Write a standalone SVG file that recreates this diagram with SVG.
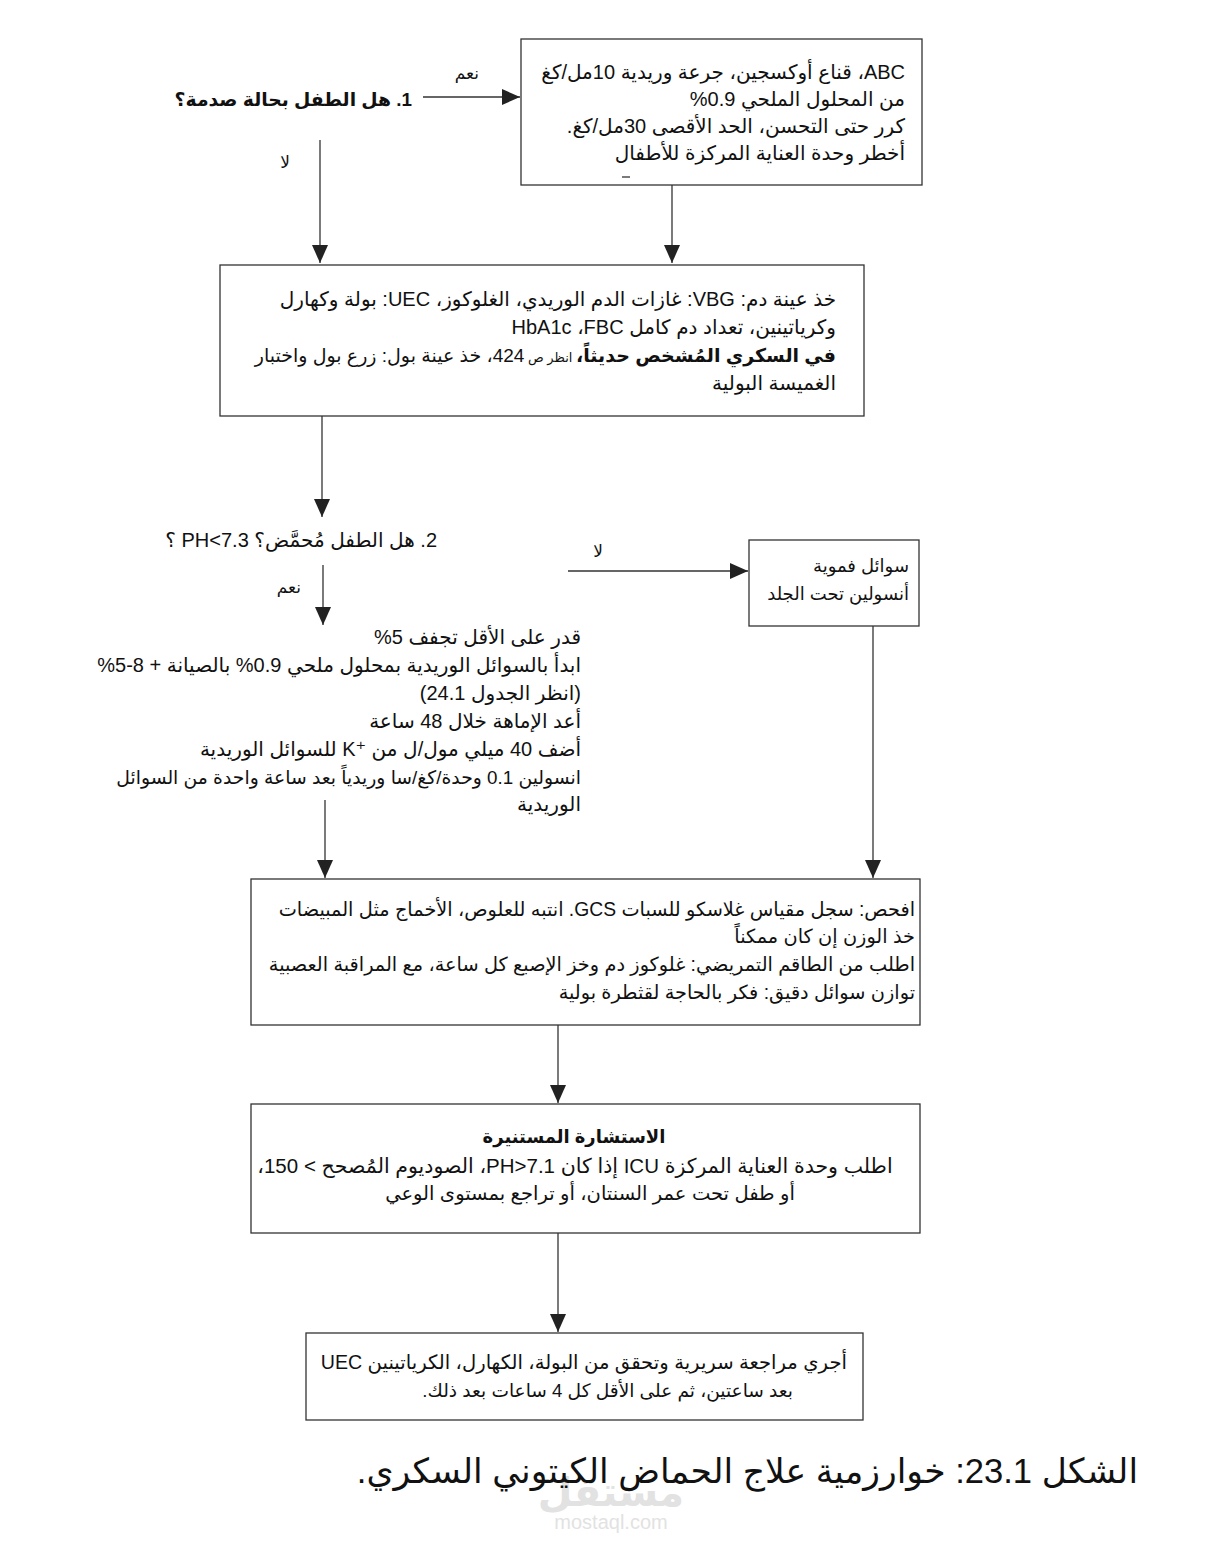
<svg xmlns="http://www.w3.org/2000/svg" width="1223" height="1565" viewBox="0 0 1223 1565">
<style>
.t{font-family:"Liberation Sans","DejaVu Sans",sans-serif;font-size:19px;fill:#111;direction:rtl;text-anchor:start}
.c{text-anchor:middle}
.box{fill:#fff;stroke:#333;stroke-width:1.3}
.ln{fill:none;stroke:#333;stroke-width:1.3}
.lbl{font-size:17px}
.wm{font-family:"Liberation Sans","DejaVu Sans",sans-serif;fill:#e2e2e2;text-anchor:middle}
</style>
<defs>
<marker id="ah" markerUnits="userSpaceOnUse" markerWidth="18" markerHeight="16" viewBox="0 0 18 16" refX="18" refY="8" orient="auto">
<path d="M0,0 L18,8 L0,16 Z" fill="#222"/>
</marker>
</defs>
<rect width="1223" height="1565" fill="#fff"/>

<g id="connectors">
<path class="ln" d="M423,97 H520" marker-end="url(#ah)"/>
<path class="ln" d="M320,140 V263" marker-end="url(#ah)"/>
<path class="ln" d="M672,185 V263" marker-end="url(#ah)"/>
<path class="ln" d="M322,416 V517" marker-end="url(#ah)"/>
<path class="ln" d="M323,565 V625" marker-end="url(#ah)"/>
<path class="ln" d="M568,571 H748" marker-end="url(#ah)"/>
<path class="ln" d="M325,800 V878" marker-end="url(#ah)"/>
<path class="ln" d="M873,626 V878" marker-end="url(#ah)"/>
<path class="ln" d="M558,1025 V1103" marker-end="url(#ah)"/>
<path class="ln" d="M558,1233 V1332" marker-end="url(#ah)"/>
<text class="t lbl" x="479" y="79">نعم</text>
<text class="t lbl" x="290" y="168">لا</text>
<text class="t lbl" x="301" y="593">نعم</text>
<text class="t lbl" x="603" y="557">لا</text>
</g>

<g id="q1">
<text class="t" x="412" y="106" style="font-size:18.8px;font-weight:bold">1. هل الطفل بحالة صدمة؟</text>
</g>

<g id="box1">
<rect class="box" x="521" y="39" width="401" height="146"/>
<text class="t" x="905" y="79" style="font-size:20px">ABC، قناع أوكسجين، جرعة وريدية 10مل/كغ</text>
<text class="t" x="905" y="106" style="font-size:20px">من المحلول الملحي 0.9%</text>
<text class="t" x="905" y="133" style="font-size:20px">كرر حتى التحسن، الحد الأقصى 30مل/كغ.</text>
<text class="t" x="905" y="160" style="font-size:20px">أخطر وحدة العناية المركزة للأطفال</text>
<path class="ln" d="M622,177 H630" stroke-width="1"/>
</g>

<g id="box2">
<rect class="box" x="220" y="265" width="644" height="151"/>
<text class="t" x="836" y="306" style="font-size:20px">خذ عينة دم: VBG: غازات الدم الوريدي، الغلوكوز، UEC: بولة وكهارل</text>
<text class="t" x="836" y="334" style="font-size:20px">وكرياتينين، تعداد دم كامل FBC&#x200F;، HbA1c</text>
<text class="t" x="836" y="362" style="font-size:19px"><tspan font-weight="bold">في السكري المُشخص حديثاً،</tspan><tspan font-size="13"> انظر ص </tspan>424، خذ عينة بول: زرع بول واختبار</text>
<text class="t" x="836" y="390" style="font-size:20px">الغميسة البولية</text>
</g>

<g id="q2">
<text class="t" x="437" y="547" style="font-size:20px">2. هل الطفل مُحمَّض؟ PH&lt;7.3 ؟</text>
</g>

<g id="box3">
<rect class="box" x="749" y="540" width="170" height="86"/>
<text class="t" x="909" y="572" style="font-size:18px">سوائل فموية</text>
<text class="t" x="909" y="600" style="font-size:18px">أنسولين تحت الجلد</text>
</g>

<g id="acidotic">
<text class="t" x="581" y="644" style="font-size:20px">قدر على الأقل تجفف 5%</text>
<text class="t" x="581" y="672" style="font-size:20px">ابدأ بالسوائل الوريدية بمحلول ملحي 0.9% بالصيانة + 8-5%</text>
<text class="t" x="581" y="700" style="font-size:20px">(انظر الجدول 24.1)</text>
<text class="t" x="581" y="728" style="font-size:20px">أعد الإماهة خلال 48 ساعة</text>
<text class="t" x="581" y="756" style="font-size:20px">أضف 40 ميلي مول/ل من &#x2066;K⁺&#x2069; للسوائل الوريدية</text>
<text class="t" x="581" y="784" style="font-size:18.8px">انسولين 0.1 وحدة/كغ/سا وريدياً بعد ساعة واحدة من السوائل</text>
<text class="t" x="581" y="811" style="font-size:20px">الوريدية</text>
</g>

<g id="box4">
<rect class="box" x="251" y="879" width="669" height="146"/>
<text class="t" x="915" y="916" style="font-size:19.3px">افحص: سجل مقياس غلاسكو للسبات GCS. انتبه للعلوص، الأخماج مثل المبيضات</text>
<text class="t" x="915" y="943" style="font-size:19.3px">خذ الوزن إن كان ممكناً</text>
<text class="t" x="915" y="971" style="font-size:19.3px">اطلب من الطاقم التمريضي: غلوكوز دم وخز الإصبع كل ساعة، مع المراقبة العصبية</text>
<text class="t" x="915" y="999" style="font-size:19.3px">توازن سوائل دقيق: فكر بالحاجة لقثطرة بولية</text>
</g>

<g id="box5">
<rect class="box" x="251" y="1104" width="669" height="129"/>
<text class="t c" x="574" y="1143" style="font-size:18px;font-weight:bold">الاستشارة المستنيرة</text>
<text class="t c" x="575" y="1173" style="font-size:20.5px">اطلب وحدة  العناية المركزة ICU إذا كان PH&gt;7.1، الصوديوم المُصحح &gt; 150،</text>
<text class="t c" x="590" y="1200" style="font-size:19.5px">أو طفل تحت عمر السنتان، أو تراجع بمستوى الوعي</text>
</g>

<g id="box6">
<rect class="box" x="306" y="1333" width="557" height="87"/>
<text class="t" x="847" y="1369" style="font-size:19.6px">أجري مراجعة سريرية وتحقق من البولة، الكهارل، الكرياتينين UEC</text>
<text class="t" x="793" y="1397" style="font-size:18.6px">بعد ساعتين، ثم على الأقل كل 4 ساعات بعد ذلك.</text>
</g>

<g id="caption">
<text class="wm" x="611" y="1506" style="font-size:40px;font-weight:bold">مستقل</text>
<text class="wm" x="611" y="1529" style="font-size:20px">mostaql.com</text>
<text class="t" x="1138" y="1483" style="font-size:34.6px">الشكل 23.1: خوارزمية علاج الحماض الكيتوني السكري.</text>
</g>
</svg>
